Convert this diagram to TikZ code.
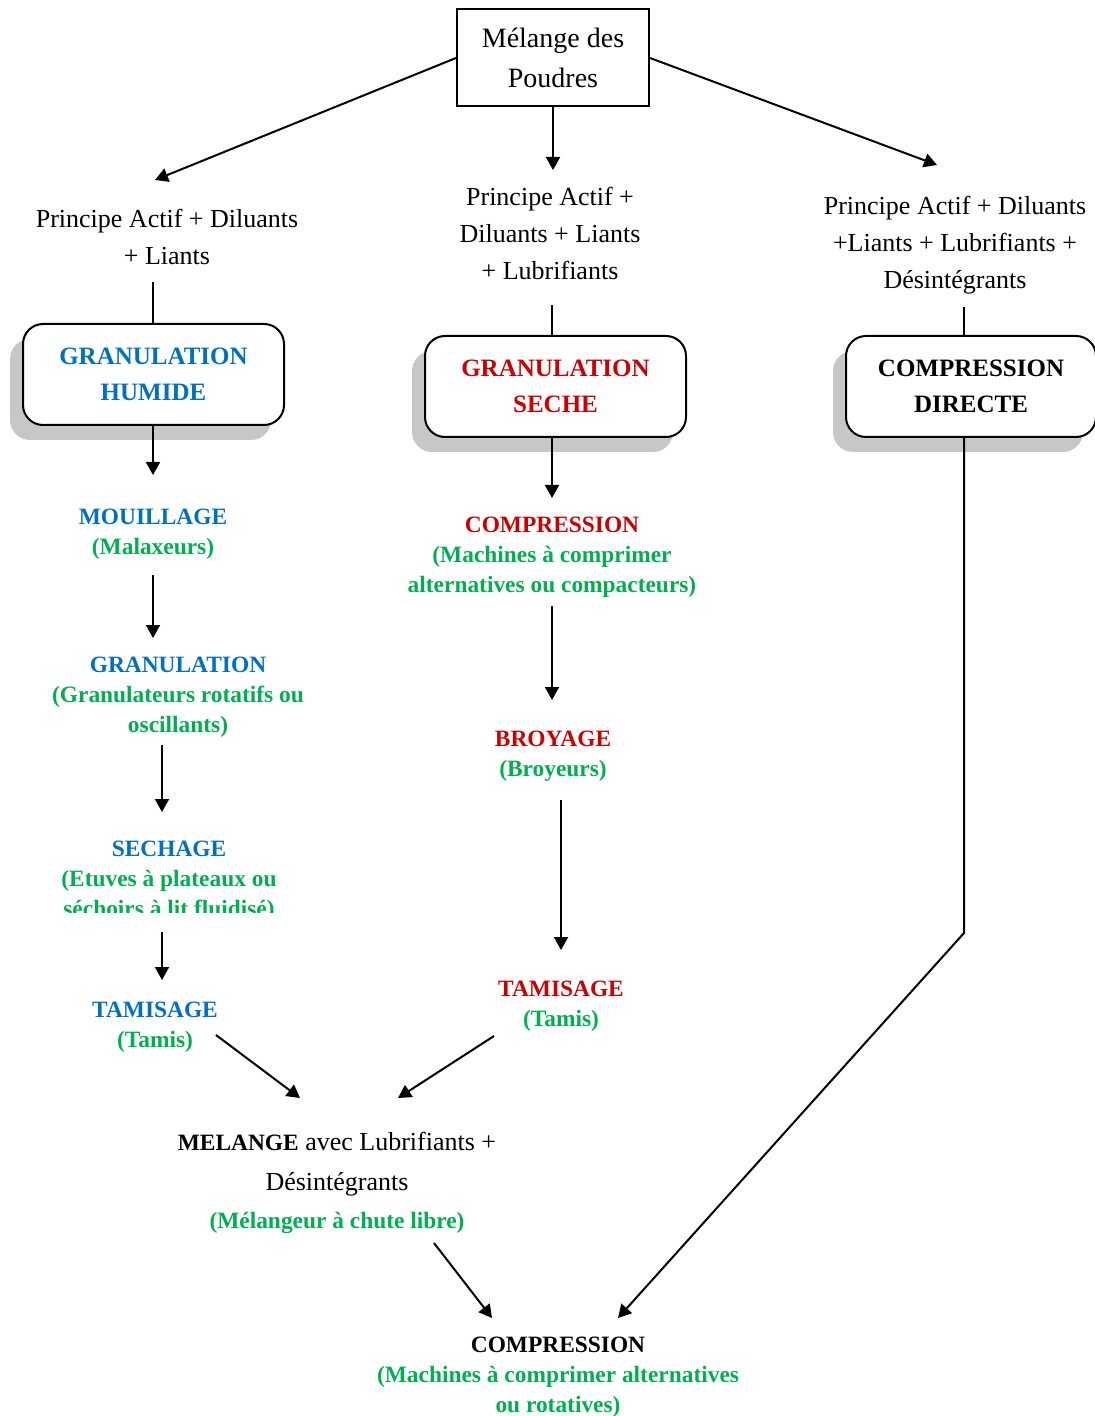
\documentclass[tikz,border=0pt]{standalone}
\usepackage{fontspec}
\setmainfont{Liberation Serif}
\usetikzlibrary{arrows.meta,shadows}
\definecolor{hblue}{HTML}{0070C0}
\definecolor{hred}{HTML}{CC0000}
\definecolor{hgreen}{HTML}{00B050}
\begin{document}
\begin{tikzpicture}[x=0.5pt,y=-0.5pt,line width=1pt,
	plain/.style={align=center,inner sep=0pt,font=\fontsize{13}{18.5}\selectfont},
	stage/.style={align=center,inner sep=0pt,font=\bfseries\fontsize{11.7}{15}\selectfont},
	wayb/.style={draw,rounded corners=10pt,fill=white,minimum width=130.5pt,minimum height=50.5pt,
		align=center,inner sep=0pt,font=\bfseries\fontsize{12.5}{18}\selectfont,
		drop shadow={shadow xshift=-6.5pt,shadow yshift=-7.5pt,fill=black!22,opacity=1}},
	arr/.style={-{Triangle[length=6.5pt,width=7pt]}}]
		\useasboundingbox (0,0) rectangle (1094,1416);

		% top
		\node[draw,plain,font=\fontsize{14}{20}\selectfont,minimum width=96pt,minimum height=48.5pt] (b0) at (553,58) {Mélange des\\Poudres};
		\node[plain] (p1) at (167,237) {Principe Actif + Diluants\\+ Liants};
		\node[plain] (p2) at (550,233) {Principe Actif +\\Diluants + Liants\\+ Lubrifiants};
		\node[plain] (p3) at (955,245) {Principe Actif + Diluants\\+Liants + Lubrifiants +\\Désintégrants};
		\coordinate (a1) at (155,180); \coordinate (a2) at (553,170); \coordinate (a3) at (937,165);
		\draw[arr] (b0.west) -- (a1);
		\draw[arr] (b0.south) -- (a2);
		\draw[arr] (b0.east) -- (a3);

		% the three ways
		\node[wayb,text=hblue] (gh) at (153.5,374.5) {GRANULATION\\HUMIDE};
		\node[wayb,text=hred] (gs) at (555.5,386.5) {GRANULATION\\SECHE};
		\node[wayb,minimum width=125pt] (cd) at (971,386.5) {COMPRESSION\\DIRECTE};
		\coordinate (c1) at (153,282); \coordinate (c2) at (552,305); \coordinate (c3) at (964,307);
		\draw (c1) -- (c1 |- gh.north);
		\draw (c2) -- (c2 |- gs.north);
		\draw (c3) -- (c3 |- cd.north);

		% granulation humide
		\node[stage] (m1) at (153,534) {\textcolor{hblue}{MOUILLAGE}\\\textcolor{hgreen}{(Malaxeurs)}};
		\node[stage] (m2) at (178,697) {\textcolor{hblue}{GRANULATION}\\\textcolor{hgreen}{(Granulateurs rotatifs ou}\\\textcolor{hgreen}{oscillants)}};
		\begin{scope}
			\clip (0,820) rectangle (400,912);
			\node[stage] (m3) at (169,881) {\textcolor{hblue}{SECHAGE}\\\textcolor{hgreen}{(Etuves à plateaux ou}\\\textcolor{hgreen}{séchoirs à lit fluidisé)}};
		\end{scope}
		\node[stage] (m4) at (155,1027) {\textcolor{hblue}{TAMISAGE}\\\textcolor{hgreen}{(Tamis)}};
		\coordinate (l1) at (153,475);
		\coordinate (l2) at (153,575); \coordinate (l3) at (153,638);
		\coordinate (l4) at (162,745); \coordinate (l5) at (162,812);
		\coordinate (l6) at (162,932); \coordinate (l7) at (162,980);
		\coordinate (l8) at (216,1035); \coordinate (l9) at (300,1098);
		\draw[arr] (l1 |- gh.south) -- (l1);
		\draw[arr] (l2) -- (l3);
		\draw[arr] (l4) -- (l5);
		\draw[arr] (l6) -- (l7);
		\draw[arr] (l8) -- (l9);

		% granulation seche
		\node[stage] (s1) at (552,557) {\textcolor{hred}{COMPRESSION}\\\textcolor{hgreen}{(Machines à comprimer}\\\textcolor{hgreen}{alternatives ou compacteurs)}};
		\node[stage] (s2) at (553,756) {\textcolor{hred}{BROYAGE}\\\textcolor{hgreen}{(Broyeurs)}};
		\node[stage] (s3) at (561,1006) {\textcolor{hred}{TAMISAGE}\\\textcolor{hgreen}{(Tamis)}};
		\coordinate (r1) at (552,498);
		\coordinate (r2) at (552,606); \coordinate (r3) at (552,700);
		\coordinate (r4) at (561,800); \coordinate (r5) at (561,950);
		\coordinate (r6) at (494,1036); \coordinate (r7) at (398,1098);
		\draw[arr] (r1 |- gs.south) -- (r1);
		\draw[arr] (r2) -- (r3);
		\draw[arr] (r4) -- (r5);
		\draw[arr] (r6) -- (r7);

		% bottom
		\node[plain,font=\fontsize{13}{20}\selectfont] (mel) at (337,1183) {\textbf{\fontsize{11.7}{20}\selectfont MELANGE} avec Lubrifiants +\\Désintégrants\\[-1pt]{\bfseries\fontsize{11.7}{15}\selectfont\textcolor{hgreen}{(Mélangeur à chute libre)}}};
		\node[stage] (fin) at (558,1377) {COMPRESSION\\\textcolor{hgreen}{(Machines à comprimer alternatives}\\\textcolor{hgreen}{ou rotatives)}};
		\coordinate (e1) at (434,1243); \coordinate (e2) at (492,1318);
		\coordinate (k1) at (964,933); \coordinate (k2) at (618,1318);
		\draw[arr] (e1) -- (e2);
		\draw[arr] (k1 |- cd.south) -- (k1) -- (k2);
\end{tikzpicture}
\end{document}
